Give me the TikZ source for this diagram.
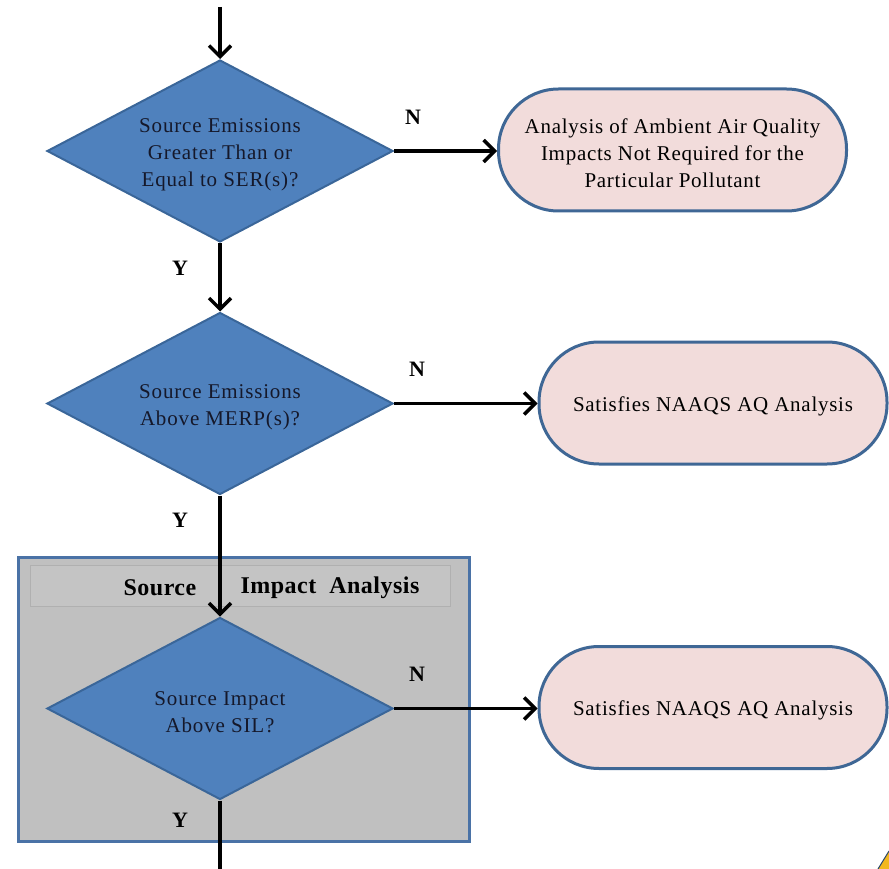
\documentclass[tikz,border=0pt]{standalone}
\usepackage{fontspec}
\setmainfont{Liberation Serif}
\usetikzlibrary{shapes.geometric,arrows.meta}
\definecolor{dfill}{HTML}{4F81BD}
\definecolor{dborder}{HTML}{3A6699}
\definecolor{dtext}{HTML}{15182A}
\definecolor{tfill}{HTML}{F2DCDB}
\definecolor{tborder}{HTML}{3F6795}
\definecolor{pfill}{HTML}{C0C0C0}
\definecolor{pborder}{HTML}{4A72A6}
\definecolor{hfill}{HTML}{C4C4C4}
\definecolor{warn}{HTML}{F2B81E}
\newcommand\padtop{\rule{0pt}{21pt}}
\begin{document}
\begin{tikzpicture}[x=1pt,y=-1pt,
  decision/.style={diamond, shape aspect=1.9, draw=dborder, fill=dfill, line width=2pt,
    minimum width=346pt, minimum height=182pt, inner sep=0pt, align=center,
    font=\fontsize{21}{27}\selectfont\addfontfeature{LetterSpace=4}, text=dtext},
  terminal/.style={rectangle, rounded corners=60pt, draw=tborder, line width=3pt,
    fill=tfill, minimum width=348pt, minimum height=122pt, align=center,
    font=\fontsize{21}{27}\selectfont\addfontfeature{LetterSpace=3.5}},
  lbl/.style={font=\fontsize{22}{22}\selectfont\bfseries, inner sep=0pt},
  hdrtxt/.style={font=\fontsize{24}{24}\selectfont\bfseries\addfontfeature{LetterSpace=2}, inner sep=0pt},
  arr/.style={line width=3.4pt, -{Straight Barb[length=11pt,width=22pt]}},
  plain/.style={line width=3.4pt}]
\useasboundingbox (0,0) rectangle (889,869);

% panel
\node[draw=pborder, fill=pfill, line width=2.5pt, minimum width=451pt, minimum height=284pt, inner sep=0pt] (panel) at (244,699.5) {};
\node[draw=hfill!90!black, fill=hfill, line width=0.6pt, minimum width=420pt, minimum height=41pt, inner sep=0pt] (hdr) at (240,585.5) {};
\node[hdrtxt] (hsrc) at (160,588) {Source};
\node[hdrtxt] (himp) at (330,588) {Impact\ \ Analysis};

% decisions
\node[decision] (d1) at (220,151) {\padtop Source Emissions\\Greater Than or\\Equal to SER(s)?};
\node[decision] (d2) at (220,403.5) {\padtop Source Emissions\\Above MERP(s)?};
\node[decision] (d3) at (220,708.5) {\padtop Source Impact\\Above SIL?};

% terminals
\node[terminal] (t1) at (672.5,150) {\padtop Analysis of Ambient Air Quality\\Impacts Not Required for the\\Particular Pollutant};
\node[terminal] (t2) at (713,403) {\padtop Satisfies NAAQS AQ Analysis};
\node[terminal] (t3) at (713,707.5) {\padtop Satisfies NAAQS AQ Analysis};

% connectors
\coordinate (top) at (220,7);
\coordinate (bot) at (220,869);
\draw[arr] (top) -- (d1.north);
\draw[arr] (d1.east) -- (d1.east -| t1.west);
\draw[arr] (d1.south) -- (d2.north);
\draw[arr] (d2.east) -- (d2.east -| t2.west);
\draw[arr] (d2.south) -- (d3.north);
\draw[arr] (d3.east) -- (d3.east -| t3.west);
\draw[plain] (d3.south) -- (bot);

% labels
\node[lbl] (n1) at (413,117) {N};
\node[lbl] (n2) at (417,369) {N};
\node[lbl] (n3) at (417,674) {N};
\node[lbl] (y1) at (180,268) {Y};
\node[lbl] (y2) at (180,520) {Y};
\node[lbl] (y3) at (180,820) {Y};

% corner fragment
\fill[warn] (878,869) -- (889,851) -- (889,869) -- cycle;
\draw[dborder!70!black, line width=1pt] (878,869) -- (889,851);
\end{tikzpicture}
\end{document}
